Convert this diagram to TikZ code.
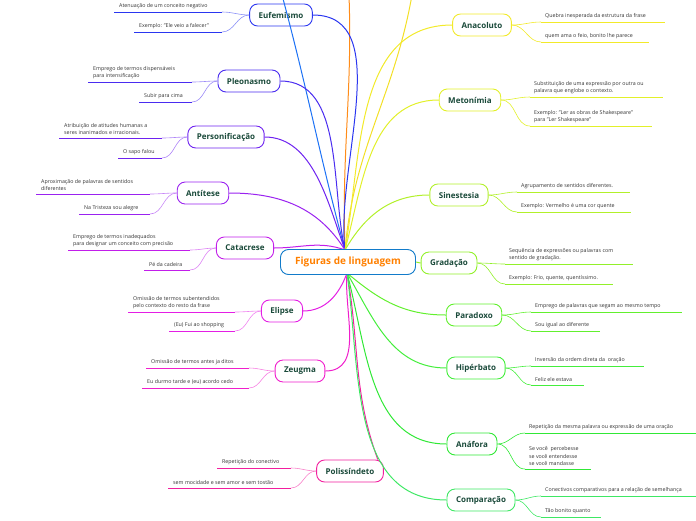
\documentclass[tikz,border=0pt]{standalone}
\usepackage{fontspec}
\setmainfont{Open Sans}
\begin{document}
\begin{tikzpicture}[x=1pt,y=-1pt,
 topic/.style={draw,line width=0.9pt,rounded corners=8pt,minimum height=22pt,inner xsep=9pt,font=\fontsize{8}{9}\selectfont\bfseries,text=tc,fill=white},
 leaf/.style={font=\fontsize{5.3}{7.5}\selectfont,text=black!80,align=left,inner sep=0pt}]
\definecolor{tc}{HTML}{1A4A3A}
\definecolor{cEuf}{HTML}{2A36F0}\definecolor{cPle}{HTML}{4A2CF0}\definecolor{cPer}{HTML}{6E22F0}
\definecolor{cAnt}{HTML}{9A22F0}\definecolor{cCat}{HTML}{C21EEA}\definecolor{cEli}{HTML}{E41EE4}
\definecolor{cZeu}{HTML}{F01ECC}\definecolor{cPol}{HTML}{F21E9E}
\definecolor{cAna}{HTML}{F2EA2A}\definecolor{cMet}{HTML}{E2F02A}\definecolor{cSin}{HTML}{B2F02A}
\definecolor{cGra}{HTML}{92F02A}\definecolor{cPar}{HTML}{62F02E}\definecolor{cHip}{HTML}{44EE3C}
\definecolor{cAnf}{HTML}{30E836}\definecolor{cCom}{HTML}{3EE864}
\useasboundingbox (0,0) rectangle (696,520);
\begin{scope}
\clip (0,0) rectangle (696,520);
\coordinate (rt) at (345,250);
\coordinate (rb) at (347,273);
\coordinate (offA) at (349,-5);
\coordinate (offB) at (412,-5);
\coordinate (offC) at (282,-5);
% topics
\node[topic,draw=cEuf] (euf) at (281,15) {Eufemismo};
\node[topic,draw=cPle] (ple) at (249,81) {Pleonasmo};
\node[topic,draw=cPer] (per) at (226,137) {Personificação};
\node[topic,draw=cAnt] (ant) at (203,193) {Antítese};
\node[topic,draw=cCat] (cat) at (245,248) {Catacrese};
\node[topic,draw=cEli] (eli) at (282,311) {Elipse};
\node[topic,draw=cZeu] (zeu) at (300,371) {Zeugma};
\node[topic,draw=cPol] (pol) at (350,471) {Polissíndeto};
\node[topic,draw=cAna] (ana) at (482,25) {Anacoluto};
\node[topic,draw=cMet] (met) at (470,100) {Metonímia};
\node[topic,draw=cSin] (sin) at (459,195) {Sinestesia};
\node[topic,draw=cGra] (gra) at (449,263) {Gradação};
\node[topic,draw=cPar] (par) at (474,315) {Paradoxo};
\node[topic,draw=cHip] (hip) at (476,368) {Hipérbato};
\node[topic,draw=cAnf] (anf) at (472,444) {Anáfora};
\node[topic,draw=cCom] (com) at (481,500) {Comparação};
% root connectors
\begin{scope}[line width=1pt]
\draw[orange!90] (rt) to[out=92,in=-88] (offA);
\draw[cAna!90!orange] (rt) to[out=85,in=-100] (offB);
\draw[cEuf!70!cyan] (rt) to[out=105,in=-75] (offC);
\draw[cEuf] (rt) to[out=97,in=0,looseness=0.9] (euf.east);
\draw[cPle] (rt) to[out=103,in=0,looseness=0.9] (ple.east);
\draw[cPer] (rt) to[out=110,in=0,looseness=0.9] (per.east);
\draw[cAnt] (rt) to[out=122,in=0] (ant.east);
\draw[cCat] (rt) to[out=160,in=0] (cat.east);
\draw[cEli] (rb) to[out=-110,in=0] (eli.east);
\draw[cZeu] (rb) to[out=-95,in=0] (zeu.east);
\draw[cPol] (rb) to[out=-80,in=110] ([xshift=-6pt]pol.north east);
\draw[cAna] (rt) to[out=80,in=180] (ana.west);
\draw[cMet] (rt) to[out=75,in=180] (met.west);
\draw[cSin] (rt) to[out=60,in=180] (sin.west);
\draw[cPar] (rb) to[out=-40,in=180] (par.west);
\draw[cHip] (rb) to[out=-60,in=180] (hip.west);
\draw[cAnf] (rb) to[out=-75,in=180] (anf.west);
\draw[cCom] (rb) to[out=-82,in=180] (com.west);
\end{scope}
\end{scope}
% center
\node[draw=cyan!60!blue,line width=0.9pt,rounded corners=8pt,fill=white,minimum width=135pt,minimum height=25pt,
 font=\fontsize{10}{12}\selectfont\bfseries,text=orange] (root) at (348,262) {Figuras de linguagem};
\draw[cGra,line width=1pt] (root.east) -- (gra.west);
% leaves
\newcommand\lfL[7]{%
 \draw[#2,line width=1pt] (#3,#5) -- (#4,#5);
 \node[leaf,anchor=south west] (#7) at (#3+5,#5-3) {#6};
 \draw[#2!55,line width=0.6pt] (#1.west) to[out=180,in=0] (#4,#5);}
\newcommand\lfR[7]{%
 \draw[#2,line width=1pt] (#3,#5) -- (#4,#5);
 \node[leaf,anchor=south west] (#7) at (#3+4,#5-3) {#6};
 \draw[#2,line width=0.6pt] (#1.east) to[out=0,in=180] (#3,#5);}
\lfL{euf}{cEuf}{114}{222}{12}{Atenuação de um conceito negativo}{l1}
\lfL{euf}{cEuf}{134}{222}{32}{Exemplo: "Ele veio a falecer"}{l2}
\lfL{ple}{cPle}{88}{192}{82}{Emprego de termos dispensáveis\\para intensificação}{l3}
\lfL{ple}{cPle}{139}{192}{102}{Subir para cima}{l4}
\lfL{per}{cPer}{59}{162}{138}{Atribuição de atitudes humanas a\\seres inanimados e irracionais.}{l5}
\lfL{per}{cPer}{118}{162}{158}{O sapo falou}{l6}
\lfL{ant}{cAnt}{36}{150}{194}{Aproximação de palavras de sentidos\\diferentes}{l7}
\lfL{ant}{cAnt}{79}{150}{214}{Na Tristeza sou alegre}{l8}
\lfL{cat}{cCat}{68}{190}{250}{Emprego de termos inadequados\\para designar um conceito com precisão}{l9}
\lfL{cat}{cCat}{144}{190}{270}{Pé da cadeira}{l10}
\lfL{eli}{cEli}{128}{235}{312}{Omissão de termos subentendidos\\pelo contexto do resto da frase}{l11}
\lfL{eli}{cEli}{169}{235}{331}{(Eu) Fui ao shopping}{l12}
\lfL{zeu}{cZeu}{146}{249}{368}{Omissão de termos antes ja ditos}{l13}
\lfL{zeu}{cZeu}{142}{249}{388}{Eu durmo tarde e (eu) acordo cedo}{l14}
\lfL{pol}{cPol}{217}{291}{468}{Repetição do conectivo}{l15}
\lfL{pol}{cPol}{168}{291}{488}{sem mocidade e sem amor e sem tostão}{l16}
\lfR{ana}{cAna}{541}{665}{22}{Quebra inesperada da estrutura da frase}{r1}
\lfR{ana}{cAna}{541}{649}{42}{quem ama o feio, bonito lhe parece}{r2}
\lfR{met}{cMet}{530}{663}{97}{Substituição de uma expressão por outra ou\\palavra que englobe o contexto.}{r3}
\lfR{met}{cMet}{530}{652}{126}{Exemplo: "Ler as obras de Shakespeare"\\para "Ler Shakespeare"}{r4}
\lfR{sin}{cSin}{517}{630}{192}{Agrupamento de sentidos diferentes.}{r5}
\lfR{sin}{cSin}{517}{631}{212}{Exemplo: Vermelho é uma cor quente}{r6}
\lfR{gra}{cGra}{505}{633}{264}{Sequência de expressões ou palavras com\\sentido de gradação.}{r7}
\lfR{gra}{cGra}{505}{613}{284}{Exemplo: Frio, quente, quentíssimo.}{r8}
\lfR{par}{cPar}{531}{682}{312}{Emprego de palavras que segam ao mesmo tempo}{r9}
\lfR{par}{cPar}{531}{600}{331}{Sou igual ao diferente}{r10}
\lfR{hip}{cHip}{531}{644}{366}{Inversão da ordem direta da\ \ oração}{r11}
\lfR{hip}{cHip}{531}{584}{385}{Feliz ele estava}{r12}
\lfR{anf}{cAnf}{525}{696}{433}{Repetição da mesma palavra ou expressão de uma oração}{r13}
\lfR{anf}{cAnf}{525}{591}{469}{Se você\ \ percebesse\\se você entendesse\\se você mandasse}{r14}
\lfR{com}{cCom}{541}{696}{496}{Conectivos comparativos para a relação de semelhança}{r15}
\lfR{com}{cCom}{541}{601}{517}{Tão bonito quanto}{r16}
\end{tikzpicture}
\end{document}
